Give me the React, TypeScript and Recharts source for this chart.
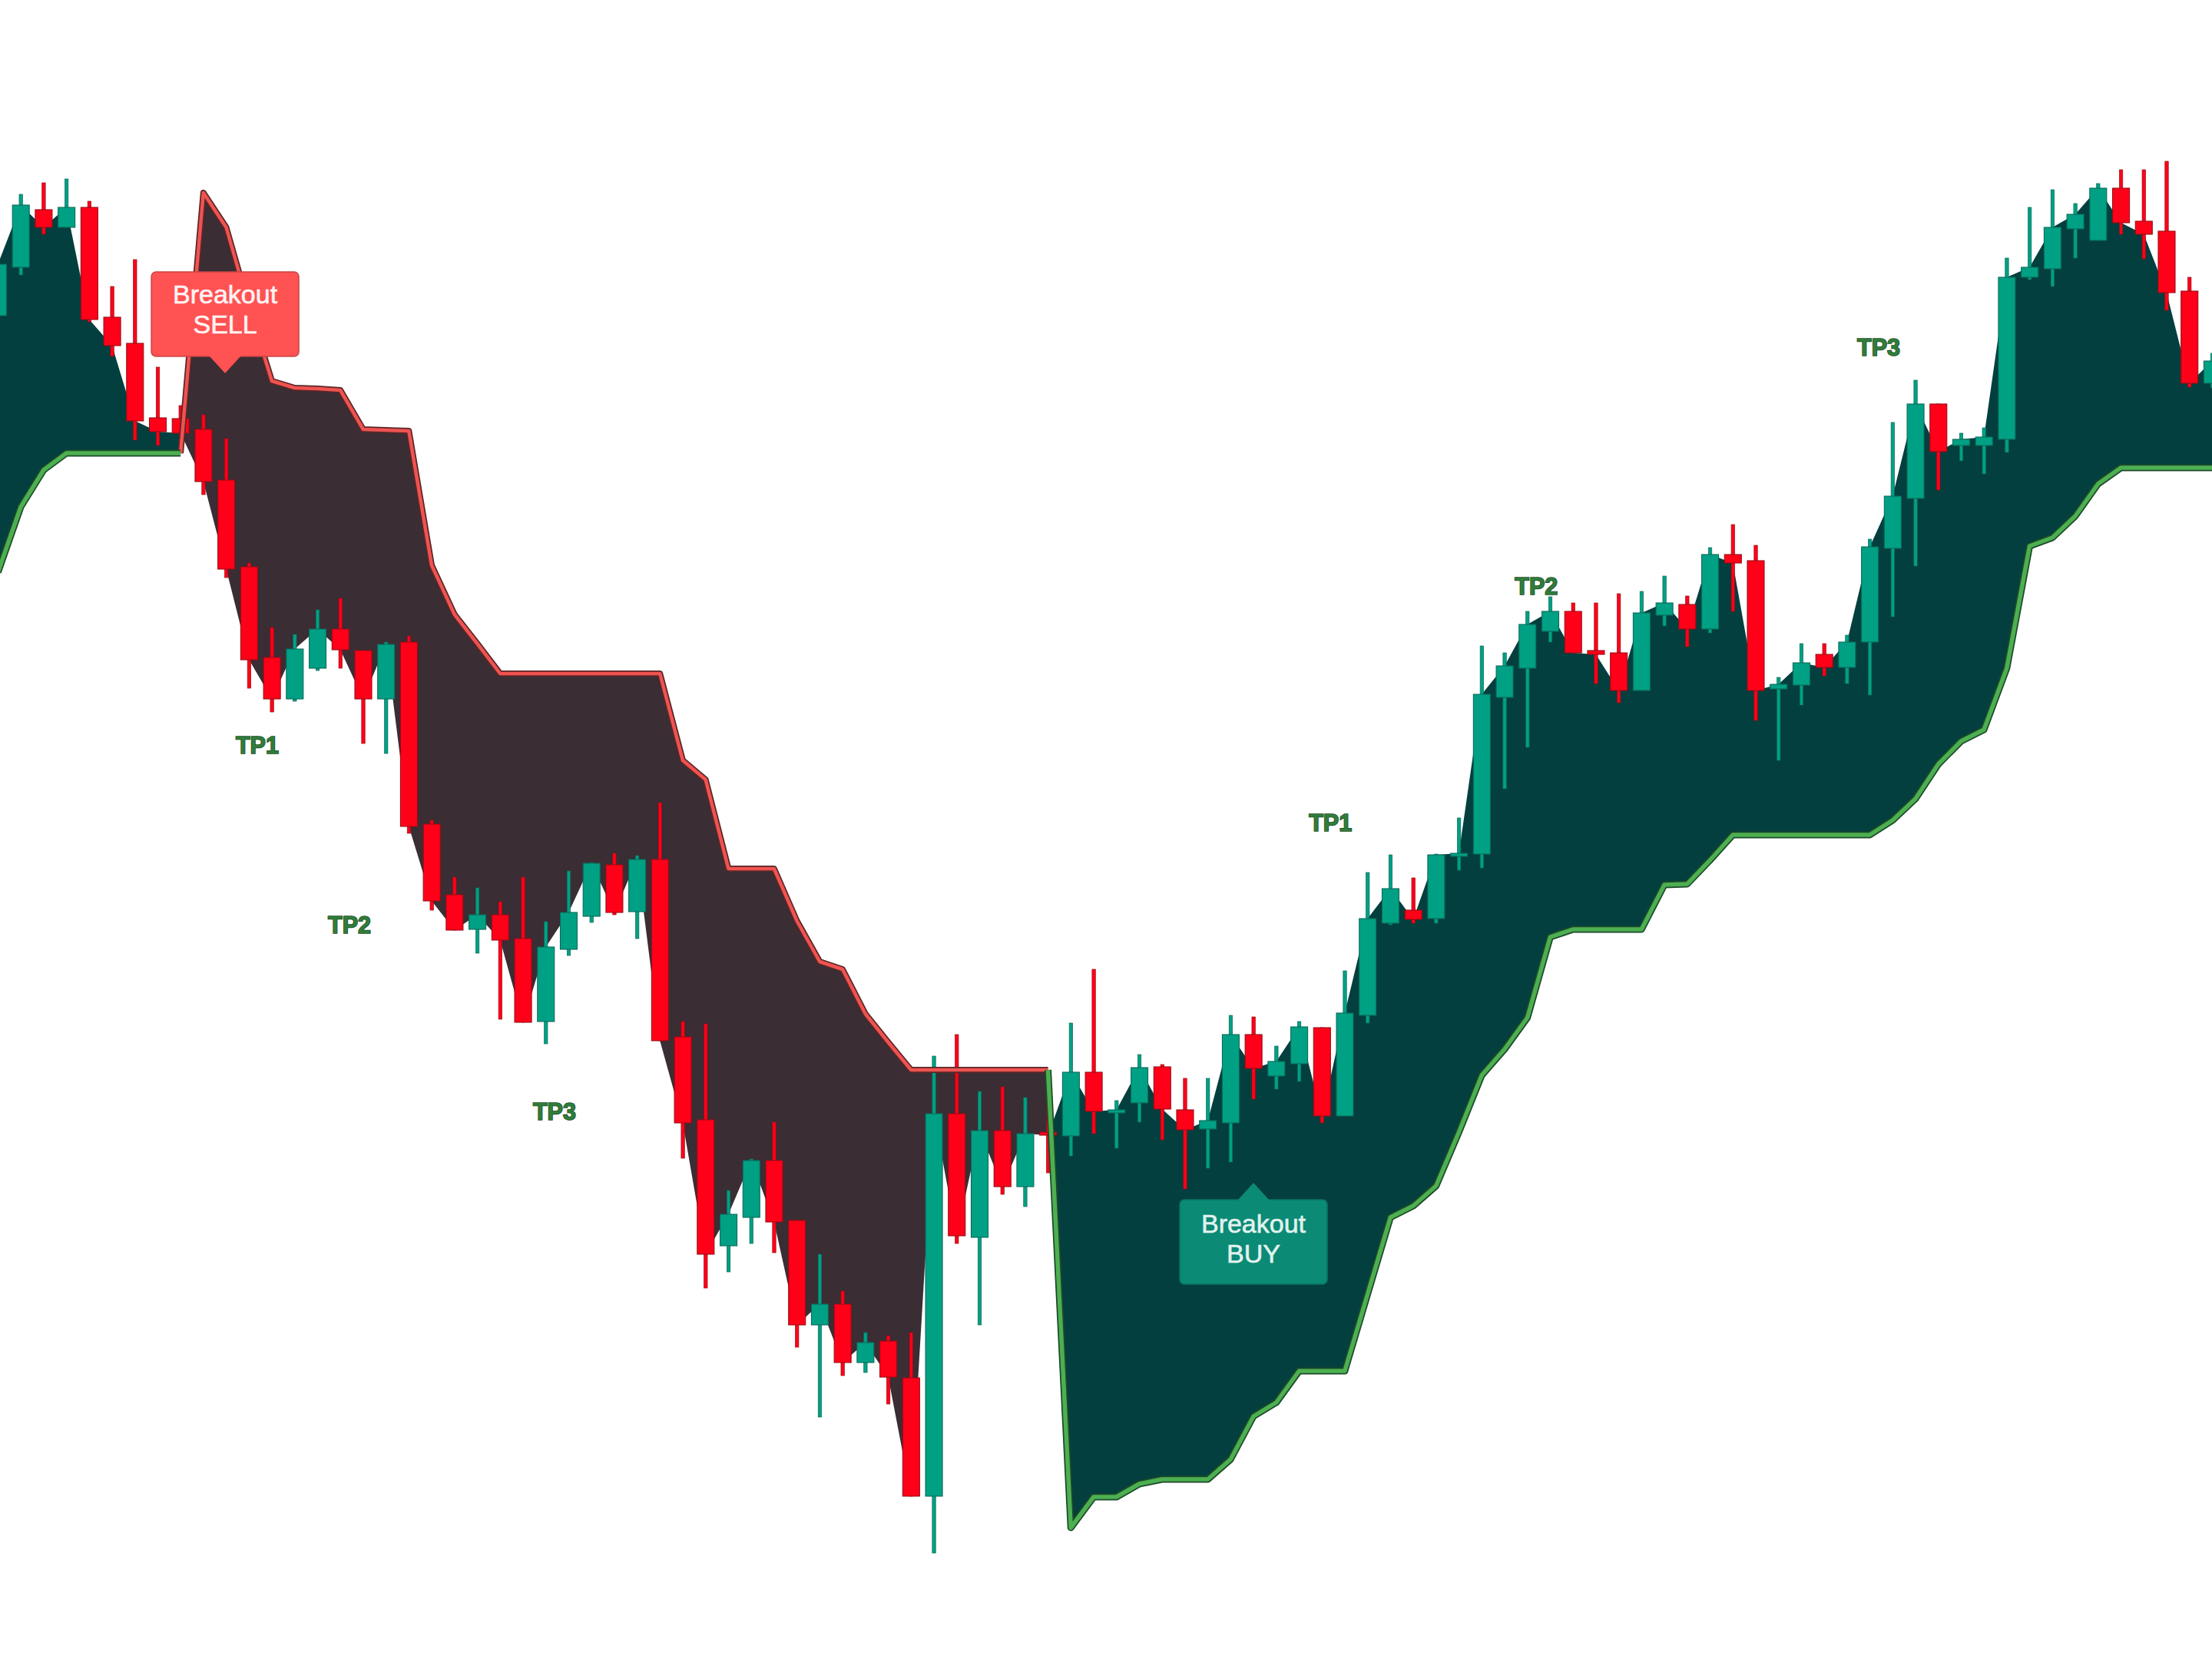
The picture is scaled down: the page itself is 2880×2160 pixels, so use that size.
import React from 'react';
import { ComposedChart, Bar, Line, Area, XAxis, YAxis, ReferenceDot } from 'recharts';

// price readings, one per bar (index 0..97)
const opens = [
  1749, 1812, 1887, 1864, 1890, 1747, 1713, 1616, 1615, 1601,
  1535, 1422, 1304, 1250, 1290, 1341, 1313, 1250, 1324, 1087,
  995, 950, 969, 938, 830, 924, 967, 1034, 973, 1041,
  810, 702, 538, 575, 649, 571, 435, 462, 386, 414,
  366, 212, 710, 549, 688, 615, 686, 681, 764, 713,
  724, 771, 715, 690, 698, 813, 759, 775, 822, 707,
  838, 958, 975, 964, 1047, 1048, 1252, 1290, 1338, 1364,
  1313, 1310, 1261, 1359, 1373, 1341, 1438, 1430, 1263, 1268,
  1308, 1291, 1324, 1446, 1511, 1634, 1580, 1580, 1588, 1799,
  1810, 1862, 1847, 1915, 1872, 1859, 1781, 1661,
];
const highs = [
  1830, 1907, 1922, 1927, 1898, 1787, 1822, 1682, 1632, 1620,
  1589, 1427, 1343, 1334, 1366, 1381, 1313, 1324, 1332, 1092,
  1018, 1004, 986, 1018, 960, 1026, 1037, 1049, 1046, 1115,
  830, 827, 610, 651, 699, 571, 527, 479, 425, 421,
  425, 785, 813, 739, 745, 731, 739, 828, 898, 727,
  787, 774, 756, 756, 838, 836, 798, 830, 822, 896,
  1024, 1047, 1017, 1048, 1095, 1319, 1310, 1364, 1383, 1375,
  1375, 1387, 1390, 1410, 1384, 1447, 1477, 1450, 1278, 1322,
  1322, 1333, 1458, 1610, 1665, 1634, 1596, 1603, 1824, 1890,
  1913, 1895, 1921, 1939, 1939, 1950, 1799, 1700,
];
const lows = [
  1740, 1802, 1855, 1864, 1741, 1696, 1587, 1580, 1570, 1516,
  1408, 1264, 1233, 1247, 1287, 1290, 1192, 1179, 1075, 975,
  949, 919, 833, 829, 801, 916, 959, 969, 938, 805,
  652, 483, 504, 541, 529, 406, 315, 369, 373, 332,
  212, 138, 541, 435, 605, 589, 633, 655, 684, 665,
  699, 676, 612, 639, 647, 729, 742, 752, 698, 707,
  828, 956, 958, 958, 1027, 1030, 1133, 1187, 1324, 1310,
  1270, 1245, 1261, 1345, 1318, 1336, 1364, 1222, 1170, 1242,
  1280, 1270, 1255, 1357, 1423, 1522, 1560, 1543, 1571, 1796,
  1787, 1824, 1847, 1855, 1823, 1756, 1656, 1655,
];
const closes = [
  1816, 1893, 1864, 1890, 1744, 1710, 1612, 1598, 1596, 1533,
  1419, 1301, 1250, 1315, 1341, 1314, 1250, 1321, 1084, 987,
  949, 969, 936, 829, 927, 972, 1036, 972, 1041, 805,
  698, 527, 579, 649, 569, 435, 462, 386, 412, 367,
  212, 710, 551, 688, 615, 684, 682, 764, 713, 715,
  770, 716, 689, 701, 813, 769, 778, 823, 707, 841,
  964, 1003, 963, 1047, 1049, 1256, 1293, 1347, 1364, 1310,
  1308, 1261, 1362, 1375, 1341, 1438, 1427, 1261, 1269, 1297,
  1291, 1324, 1448, 1514, 1634, 1572, 1588, 1591, 1799, 1812,
  1864, 1881, 1915, 1870, 1855, 1779, 1661, 1690,
];

// trailing stop level per bar
const trailStop = [
  1415, 1500, 1548, 1570, 1570, 1570, 1570, 1570, 1570, 1909,
  1864, 1760, 1664, 1655, 1654, 1652, 1601, 1600, 1599, 1424,
  1360, 1322, 1283, 1283, 1283, 1283, 1283, 1283, 1283, 1283,
  1170, 1145, 1029, 1029, 1029, 961, 908, 898, 840, 803,
  767, 767, 767, 767, 767, 767, 767, 171, 211, 211,
  228, 234, 234, 234, 260, 316, 334, 375, 375, 375,
  475, 575, 590, 616, 686, 760, 794, 835, 940, 950,
  950, 950, 950, 1008, 1009, 1040, 1073, 1073, 1073, 1073,
  1073, 1073, 1073, 1092, 1120, 1165, 1195, 1210, 1290, 1449,
  1460, 1488, 1530, 1551, 1551, 1551, 1551, 1551,
];

// trend changes: bar where a new trend starts, 1 = long, -1 = short
const trendStarts = [0, 9, 47];
const trendDirs = [1, -1, 1];

const tpTexts = ['TP1', 'TP2', 'TP3', 'TP1', 'TP2', 'TP3'];
const tpBars = [11.36, 15.4, 24.38, 58.37, 67.39, 82.39];
const tpPrices = [1190, 956, 713, 1089, 1397, 1708];

const breakoutTexts = [['Breakout', 'SELL'], ['Breakout', 'BUY']];
const breakoutBars = [9.95, 55.0];
const breakoutPrices = [1674, 620];
const breakoutDirs = [-1, 1];

const C = {
  up: '#00a084',
  upEdge: '#0b6b5a',
  down: '#ff0018',
  downEdge: '#9a0b16',
  longFill: '#033f3e',
  shortFill: '#3a2d34',
  longLine: '#4caf50',
  longLineEdge: '#1d4a2a',
  shortLine: '#ef5350',
  shortLineEdge: '#5a2628',
  sellTag: '#ff5252',
  buyTag: '#0b8a76',
  tp: '#2f7d3a',
  tpEdge: '#1c4a25',
};

const dirAt = (i: number) => {
  let d = trendDirs[0];
  trendStarts.forEach((s, k) => {
    if (i >= s) d = trendDirs[k];
  });
  return d;
};

const data = opens.map((open, i) => {
  const d = dirAt(i);
  const next = i + 1 < opens.length ? dirAt(i + 1) : d;
  const isLong = d === 1 || next === 1;
  const isShort = d === -1 || next === -1;
  const close = closes[i];
  const stop = trailStop[i];
  return {
    i,
    open,
    high: highs[i],
    low: lows[i],
    close,
    range: [lows[i], highs[i]],
    longStop: isLong ? stop : null,
    shortStop: isShort ? stop : null,
    longBand: isLong ? [stop, close] : null,
    shortBand: isShort ? [close, stop] : null,
  };
});

const Candle = (props: any) => {
  const { x, y, width, height, payload } = props;
  if (x == null || y == null || !payload) return null;
  const { open, close, high, low } = payload;
  const rising = close >= open;
  const top = Math.min(y, y + height);
  const h = Math.abs(height);
  const span = high - low || 1;
  const toY = (v: number) => top + ((high - v) / span) * h;
  const cx = x + width / 2;
  const bTop = toY(Math.max(open, close));
  const bBot = toY(Math.min(open, close));
  const fill = rising ? C.up : C.down;
  const edge = rising ? C.upEdge : C.downEdge;
  return (
    <g>
      <rect x={cx - 2.2} y={top} width={4.4} height={Math.max(h, 1)} fill={fill} stroke={edge} strokeWidth={0.7} />
      <rect x={x} y={bTop} width={width} height={Math.max(bBot - bTop, 4)} fill={fill} stroke={edge} strokeWidth={1.1} />
    </g>
  );
};

const BreakoutTag = ({ cx, cy, lines, dir }: any) => {
  const w = 192;
  const h = 110;
  const tip = 22;
  const half = 21;
  const color = dir < 0 ? C.sellTag : C.buyTag;
  const textColor = dir < 0 ? '#fff4f4' : '#e2f3ee';
  const boxTop = dir < 0 ? cy - tip - h : cy + tip;
  const baseY = dir < 0 ? cy - tip - 1 : cy + tip + 1;
  const l1 = dir < 0 ? boxTop + 29 : boxTop + 31;
  return (
    <g>
      <rect x={cx - w / 2} y={boxTop} width={w} height={h} rx={6} fill={color} stroke={dir < 0 ? '#c94646' : '#0a7463'} strokeWidth={1.5} />
      <polygon points={`${cx - half},${baseY} ${cx + half},${baseY} ${cx},${cy}`} fill={color} />
      <text x={cx} y={l1} textAnchor="middle" dominantBaseline="central" fontFamily="Liberation Sans, Arial, sans-serif" fontSize={34} fill={textColor} stroke={textColor} strokeWidth={0.6}>
        {lines[0]}
      </text>
      <text x={cx} y={l1 + 39} textAnchor="middle" dominantBaseline="central" fontFamily="Liberation Sans, Arial, sans-serif" fontSize={34} fill={textColor} stroke={textColor} strokeWidth={0.6}>
        {lines[1]}
      </text>
    </g>
  );
};

const TpText = ({ cx, cy, label }: any) => (
  <text
    x={cx}
    y={cy}
    textAnchor="middle"
    dominantBaseline="central"
    fontFamily="Liberation Sans, Arial, sans-serif"
    fontWeight="bold"
    fontSize={32}
    textLength={56}
    lengthAdjust="spacingAndGlyphs"
    fill={C.tp}
    stroke={C.tpEdge}
    strokeWidth={1.6}
    paintOrder="stroke"
  >
    {label}
  </text>
);

export default function App() {
  return (
    <div style={{ position: 'absolute', left: 0, top: 0, width: 2880, height: 2160, background: '#ffffff', overflow: 'hidden' }}>
      <ComposedChart width={2880} height={2160} data={data} margin={{ top: 0, right: 0, bottom: 0, left: 0 }}>
        <XAxis dataKey="i" type="number" domain={[0.09, 96.99]} hide allowDataOverflow />
        <YAxis type="number" domain={[0, 2160]} hide allowDataOverflow />

        <Area dataKey="longBand" fill={C.longFill} fillOpacity={1} stroke="none" isAnimationActive={false} />
        <Area dataKey="shortBand" fill={C.shortFill} fillOpacity={1} stroke="none" isAnimationActive={false} />

        <Line dataKey="shortStop" stroke={C.shortLineEdge} strokeWidth={8} dot={false} activeDot={false} strokeLinejoin="round" isAnimationActive={false} />
        <Line dataKey="shortStop" stroke={C.shortLine} strokeWidth={4.5} dot={false} activeDot={false} strokeLinejoin="round" isAnimationActive={false} />
        <Line dataKey="longStop" stroke={C.longLineEdge} strokeWidth={9} dot={false} activeDot={false} strokeLinejoin="round" isAnimationActive={false} />
        <Line dataKey="longStop" stroke={C.longLine} strokeWidth={5.5} dot={false} activeDot={false} strokeLinejoin="round" isAnimationActive={false} />

        <Bar dataKey="range" barSize={22} shape={<Candle />} isAnimationActive={false} />

        {tpTexts.map((t, k) => (
          <ReferenceDot
            key={`tp-${k}`}
            x={tpBars[k]}
            y={tpPrices[k]}
            r={0}
            shape={(p: any) => <TpText cx={p.cx} cy={p.cy} label={t} />}
          />
        ))}
        {breakoutTexts.map((lines, k) => (
          <ReferenceDot
            key={`bo-${k}`}
            x={breakoutBars[k]}
            y={breakoutPrices[k]}
            r={0}
            shape={(p: any) => <BreakoutTag cx={p.cx} cy={p.cy} lines={lines} dir={breakoutDirs[k]} />}
          />
        ))}
      </ComposedChart>
    </div>
  );
}
